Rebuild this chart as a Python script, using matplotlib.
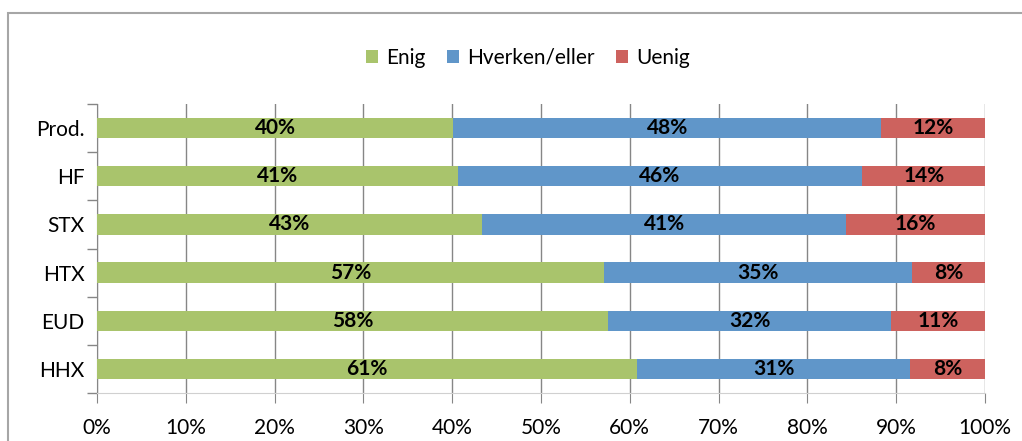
import matplotlib.pyplot as plt
from matplotlib.patches import Rectangle
from matplotlib.ticker import FixedLocator, PercentFormatter

categories = ["Prod.", "HF", "STX", "HTX", "EUD", "HHX"]
enig = [40.1, 40.6, 43.4, 57.1, 57.6, 60.8]
hverken = [48.2, 45.6, 41.0, 34.7, 31.8, 30.8]
uenig = [11.7, 13.8, 15.6, 8.2, 10.6, 8.4]
series_names = ["Enig", "Hverken/eller", "Uenig"]
colors = ["#A9C46C", "#6096C9", "#CD625E"]

plt.rcParams['font.family'] = ['Lato', 'DejaVu Sans']
fs = 15

fig = plt.figure(figsize=(10.22, 4.41), dpi=100)
ax = fig.add_axes([97 / 1022, 1 - 393 / 441, 888 / 1022, 289 / 441])

fig.patches.append(Rectangle((8 / 1022, -0.1), 1.1, 1 - 13 / 441 + 0.1,
                             transform=fig.transFigure, fill=False,
                             edgecolor="#A6A6A6", linewidth=1.5))

y = list(range(len(categories)))
left = [0] * len(categories)
for vals, name, c in zip([enig, hverken, uenig], series_names, colors):
    bars = ax.barh(y, vals, left=left, height=0.42, color=c, label=name, zorder=3)
    ax.bar_label(bars, labels=["%.0f%%" % v for v in vals], label_type="center",
                 fontsize=fs, fontweight="bold", color="black")
    left = [a + b for a, b in zip(left, vals)]

ax.set_xlim(0, 100)
ax.set_ylim(len(categories) - 0.5, -0.5)
ax.set_yticks(y)
ax.set_yticklabels(categories)
ax.yaxis.set_minor_locator(FixedLocator([i - 0.5 for i in range(len(categories) + 1)]))
ax.tick_params(axis="y", which="major", length=0, pad=9, labelsize=fs)
ax.tick_params(axis="y", which="minor", length=7, color="#868686", width=1)
ax.set_xticks(range(0, 101, 10))
ax.xaxis.set_major_formatter(PercentFormatter(decimals=0))
ax.tick_params(axis="x", length=7, color="#868686", labelsize=fs, pad=11)
ax.grid(axis="x", color="#868686", linewidth=1, zorder=0)

for s in ["top", "right"]:
    ax.spines[s].set_visible(False)
ax.spines["left"].set_color("#868686")
ax.spines["bottom"].set_color("#D0D0D0")

ax.legend(loc="center", bbox_to_anchor=(528 / 1022, 1 - 58 / 441),
          bbox_transform=fig.transFigure, ncol=3, frameon=False,
          fontsize=fs, handlelength=0.6, handleheight=0.6,
          handletextpad=0.4, columnspacing=1.0)

fig.savefig("out.png", dpi=100)
